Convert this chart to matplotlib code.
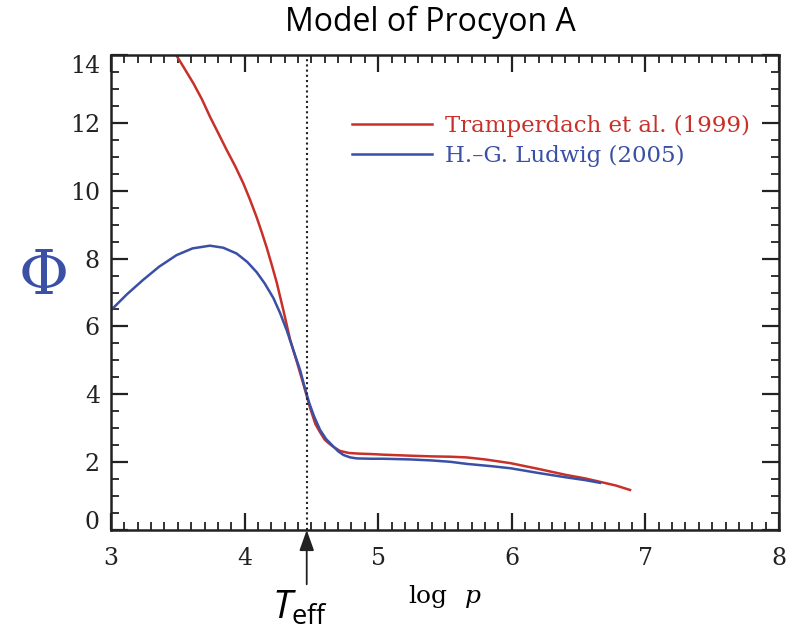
import matplotlib
matplotlib.use("Agg")
import matplotlib.pyplot as plt
from matplotlib.ticker import MultipleLocator
import matplotlib.transforms as mtransforms

# ---- data ----
red_logp = [3.48, 3.55, 3.616, 3.68, 3.741, 3.80, 3.866, 3.93, 3.99, 4.04, 4.09, 4.128, 4.165,
            4.20, 4.24, 4.29, 4.34, 4.39, 4.44, 4.49, 4.53, 4.565, 4.60, 4.635, 4.665, 4.714,
            4.78, 4.86, 4.94, 5.04, 5.24, 5.40, 5.54, 5.66, 5.80, 5.99, 6.20,
            6.41, 6.55, 6.66, 6.78, 6.885]
red_phi = [14.05, 13.6, 13.17, 12.7, 12.18, 11.72, 11.2, 10.72, 10.22, 9.74, 9.22, 8.78, 8.33,
           7.86, 7.30, 6.48, 5.62, 4.97, 4.30, 3.60, 3.12, 2.88, 2.66, 2.54, 2.45, 2.33,
           2.27, 2.25, 2.24, 2.22, 2.19, 2.17, 2.16, 2.14, 2.08, 1.97, 1.80,
           1.62, 1.52, 1.42, 1.31, 1.18]

blue_logp = [3.0, 3.12, 3.24, 3.36, 3.49, 3.61, 3.741, 3.84, 3.94, 4.02, 4.09, 4.15, 4.215,
             4.265, 4.315, 4.365, 4.415, 4.45, 4.485, 4.52, 4.565, 4.61, 4.665, 4.70, 4.74,
             4.79, 4.84, 4.95, 5.04, 5.24, 5.40, 5.54, 5.66, 5.85, 5.99, 6.20, 6.41, 6.55, 6.66]
blue_phi = [6.48, 6.95, 7.37, 7.76, 8.10, 8.30, 8.38, 8.32, 8.15, 7.90, 7.60, 7.27, 6.84,
            6.40, 5.89, 5.30, 4.72, 4.20, 3.73, 3.35, 2.95, 2.68, 2.46, 2.32, 2.21,
            2.14, 2.11, 2.10, 2.10, 2.08, 2.05, 2.01, 1.95, 1.88, 1.82, 1.68, 1.55, 1.47, 1.39]

red_label = "Tramperdach et al. (1999)"
blue_label = "H.\u2013G. Ludwig (2005)"
title = "Model of Procyon A"
teff_logp = 4.465

x_ticks = [3, 4, 5, 6, 7, 8]
y_ticks = [0, 2, 4, 6, 8, 10, 12, 14]

RED = "#c8302a"
BLUE = "#3a4fa6"
AX = "#222222"

plt.rcParams['mathtext.fontset'] = 'custom'
plt.rcParams['mathtext.it'] = 'Open Sans:italic'
plt.rcParams['mathtext.rm'] = 'Open Sans'

fig = plt.figure(figsize=(7.94, 6.37), dpi=100)
ax = fig.add_axes([111/794, 1-530/637, 668/794, 475/637])

ax.plot(red_logp, red_phi, color=RED, lw=1.8, label=red_label, solid_joinstyle='round')
ax.plot(blue_logp, blue_phi, color=BLUE, lw=1.8, label=blue_label, solid_joinstyle='round')
ax.axvline(teff_logp, color=AX, lw=1.5, ls=(0, (1, 1.5)))

ax.set_xlim(3, 8)
ax.set_ylim(0, 14)
ax.set_xticks(x_ticks)
ax.set_yticks(y_ticks)
ax.xaxis.set_minor_locator(MultipleLocator(0.1))
ax.yaxis.set_minor_locator(MultipleLocator(0.5))
ax.tick_params(which='both', direction='in', top=True, right=True, color=AX)
ax.tick_params(which='major', length=12, width=1.6)
ax.tick_params(which='minor', length=6, width=1.3)
ax.tick_params(axis='x', which='major', pad=12)
ax.tick_params(axis='y', which='major', pad=8)
for s in ax.spines.values():
    s.set_linewidth(1.8)
    s.set_color(AX)

for lab in ax.get_xticklabels() + ax.get_yticklabels():
    lab.set_fontfamily('DejaVu Serif')
    lab.set_fontsize(17)
    lab.set_color(AX)

# shift extreme y labels inward like the original
ylabs = ax.get_yticklabels()
ylabs[0].set_transform(ylabs[0].get_transform() + mtransforms.ScaledTranslation(0, 10/100, fig.dpi_scale_trans))
ylabs[-1].set_transform(ylabs[-1].get_transform() + mtransforms.ScaledTranslation(0, -9/100, fig.dpi_scale_trans))

leg = ax.legend(loc='upper left', bbox_to_anchor=(0.33, 0.918), frameon=False,
                handlelength=3.5, handletextpad=0.55, labelspacing=0.35,
                prop={'family': 'DejaVu Serif', 'size': 16.5}, labelcolor='linecolor')

fig.text(430/794, 1-22/637, title, ha='center', va='center', fontsize=23, family='Open Sans')
fig.text(44/794, 1-277/637, "\u03a6", ha='center', va='center', fontsize=44,
         family='DejaVu Serif', color=BLUE)

ax.annotate('', xy=(teff_logp, 0), xytext=(teff_logp, -1.6),
            arrowprops=dict(arrowstyle='-|>,head_width=0.25,head_length=0.7', color=AX, lw=1.3,
                            mutation_scale=18, shrinkA=0, shrinkB=0),
            annotation_clip=False)
fig.text(300/794, 1-608/637, r'$T_{\mathrm{eff}}$', ha='center', va='center', fontsize=28)

fig.text(428/794, 1-597/637, "log", ha='center', va='center', fontsize=18, family='DejaVu Serif')
fig.text(473/794, 1-597/637, "p", ha='center', va='center', fontsize=18, family='DejaVu Serif',
         style='italic')

fig.savefig("out.png", dpi=100)
